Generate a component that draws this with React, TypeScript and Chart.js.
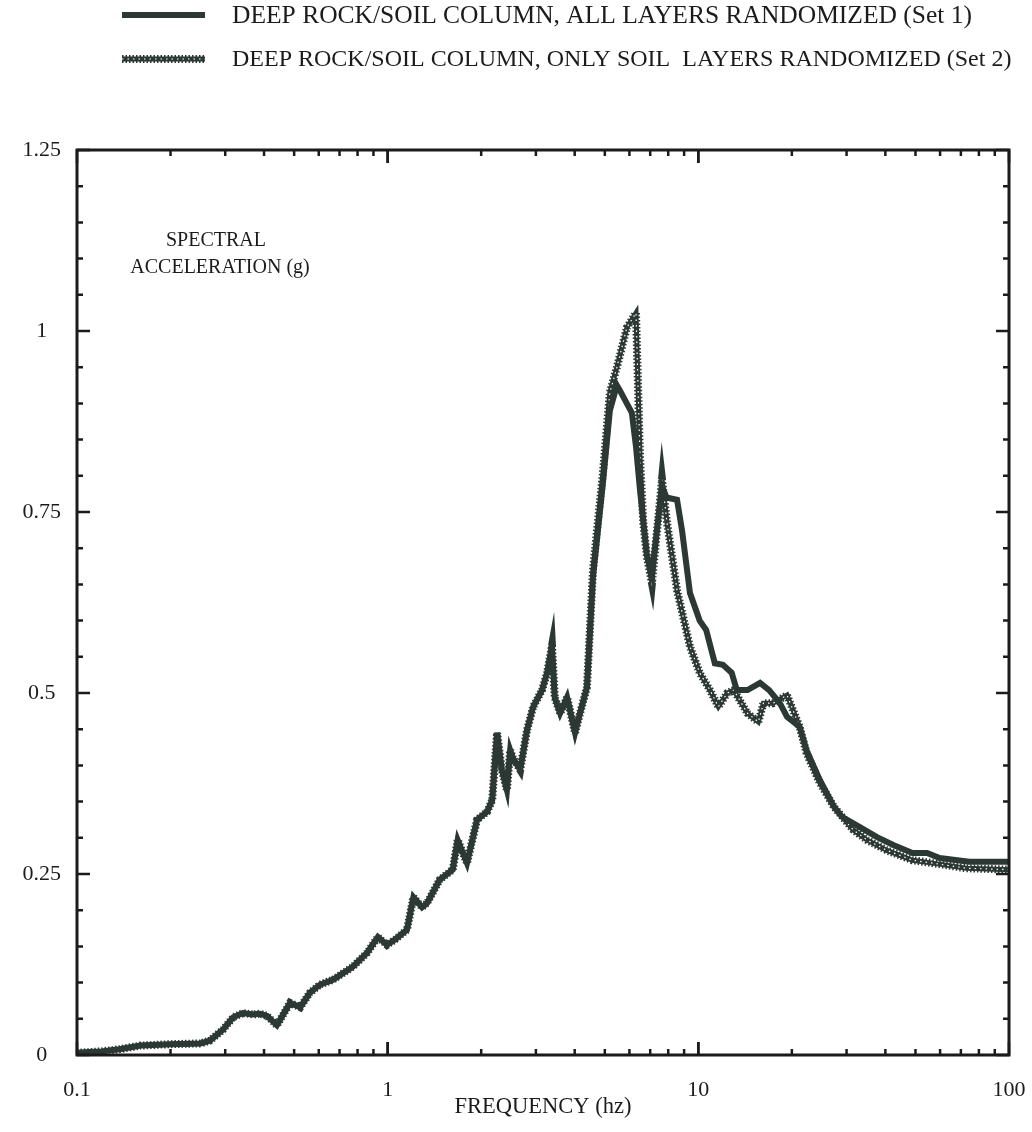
import React, { useEffect, useRef } from "react";
import Chart from "chart.js/auto";

const LEGEND_LABELS = [
  "DEEP ROCK/SOIL COLUMN, ALL LAYERS RANDOMIZED (Set 1)",
  "DEEP ROCK/SOIL COLUMN, ONLY SOIL  LAYERS RANDOMIZED (Set 2)",
];
const Y_TITLE_LINES = ["SPECTRAL", "ACCELERATION (g)"];
const X_TITLE = "FREQUENCY (hz)";

const X_TICKS = [0.1, 1, 10, 100];
const X_TICK_LABELS = ["0.1", "1", "10", "100"];
const Y_TICKS = [0, 0.25, 0.5, 0.75, 1, 1.25];
const Y_TICK_LABELS = ["0", "0.25", "0.5", "0.75", "1", "1.25"];

// common part of both curves (frequency in Hz, spectral acceleration in g)
const SHARED_FREQ = [
  0.1, 0.11, 0.12, 0.137, 0.16, 0.2, 0.25, 0.268, 0.295, 0.318, 0.342, 0.368,
  0.388, 0.409, 0.44, 0.485, 0.523, 0.562, 0.605, 0.667, 0.718, 0.773, 0.858,
  0.93, 0.995, 1.06, 1.154, 1.21, 1.29, 1.34, 1.47, 1.62, 1.68, 1.8, 1.94, 2.09,
  2.17, 2.25, 2.33, 2.42, 2.48, 2.53, 2.67, 2.81, 2.94, 3.14, 3.26, 3.38, 3.45,
  3.59, 3.78, 3.86, 4.01, 4.16, 4.38,
];
const SHARED_SA = [
  0.003, 0.004, 0.005, 0.008, 0.013, 0.015, 0.016, 0.02, 0.035, 0.052, 0.058,
  0.056, 0.057, 0.054, 0.041, 0.072, 0.066, 0.086, 0.097, 0.104, 0.113, 0.122,
  0.141, 0.163, 0.152, 0.16, 0.173, 0.218, 0.204, 0.21, 0.242, 0.256, 0.297,
  0.265, 0.325, 0.336, 0.352, 0.445, 0.394, 0.366, 0.421, 0.41, 0.394, 0.449,
  0.481, 0.504, 0.528, 0.565, 0.494, 0.472, 0.494, 0.477, 0.445, 0.472, 0.508,
];

// Set 1 (solid) above 4.4 Hz
const SET1_FREQ = [
  4.58, 4.93, 5.19, 5.47, 5.59, 6.11, 6.3, 6.49, 6.83, 7.09, 7.64, 7.9, 8.54,
  8.86, 9.4, 10.1, 10.6, 11.3, 12.0, 12.8, 13.3, 14.4, 15.8, 16.9, 18.3, 19.3,
  21.2, 22.3, 24.6, 27.3, 29.0, 33.0, 37.6, 42.4, 48.9, 54.5, 59.8, 74.5, 100,
];
const SET1_SA = [
  0.66, 0.79, 0.89, 0.925, 0.918, 0.887, 0.84, 0.78, 0.69, 0.665, 0.785, 0.77,
  0.767, 0.725, 0.638, 0.6, 0.587, 0.541, 0.539, 0.528, 0.504, 0.504, 0.514,
  0.504, 0.486, 0.467, 0.453, 0.421, 0.38, 0.343, 0.329, 0.315, 0.301, 0.29,
  0.279, 0.279, 0.272, 0.267, 0.267,
];

// Set 2 (dotted) above 4.4 Hz
const SET2_FREQ = [
  4.58, 4.93, 5.19, 5.47, 5.89, 6.3, 6.49, 6.65, 6.83, 7.09, 7.64, 7.93, 8.54,
  8.73, 9.4, 10.1, 10.9, 11.6, 12.4, 13.0, 14.4, 15.6, 16.2, 17.4, 19.3, 21.2,
  22.3, 24.6, 27.3, 31.5, 34.9, 40.3, 48.9, 56.7, 72.9, 100,
];
const SET2_SA = [
  0.67, 0.804, 0.915, 0.95, 1.005, 1.025, 0.826, 0.735, 0.688, 0.652, 0.795,
  0.735, 0.642, 0.624, 0.564, 0.528, 0.504, 0.481, 0.5, 0.504, 0.472, 0.46,
  0.486, 0.486, 0.497, 0.453, 0.417, 0.376, 0.343, 0.311, 0.297, 0.283, 0.269,
  0.265, 0.258, 0.256,
];

const LINE_COLOR = "#2c3833";
const INK = "#1b1b1b";
const SERIF = "'Liberation Serif', 'DejaVu Serif', serif";

const toPoints = (f: number[], v: number[]) => f.map((x, i) => ({ x, y: v[i] }));

const drawDottedSample = (ctx: CanvasRenderingContext2D, x0: number, x1: number, y: number) => {
  ctx.strokeStyle = LINE_COLOR;
  ctx.lineWidth = 5;
  ctx.setLineDash([]);
  ctx.beginPath();
  ctx.moveTo(x0, y);
  ctx.lineTo(x1, y);
  ctx.stroke();
  ctx.lineWidth = 8;
  ctx.setLineDash([1.5, 2]);
  ctx.beginPath();
  ctx.moveTo(x0, y);
  ctx.lineTo(x1, y);
  ctx.stroke();
  ctx.strokeStyle = "#ffffff";
  ctx.lineWidth = 1.2;
  ctx.setLineDash([1.5, 4]);
  ctx.beginPath();
  ctx.moveTo(x0, y);
  ctx.lineTo(x1, y);
  ctx.stroke();
  ctx.setLineDash([]);
};

const framePlugin = {
  id: "frame",
  afterDraw(chart: any) {
    const { ctx, chartArea: a, scales } = chart;
    const xs = scales.x;
    const ys = scales.y;
    ctx.save();
    ctx.strokeStyle = INK;
    ctx.lineWidth = 3;
    ctx.strokeRect(a.left, a.top, a.right - a.left, a.bottom - a.top);
    ctx.lineWidth = 2.5;
    const major = 13;
    const minor = 6;
    for (let d = 0.1; d < 100; d *= 10) {
      for (let k = 1; k <= 10; k++) {
        const v = d * k;
        if (v > 100.0001) continue;
        const px = xs.getPixelForValue(v);
        const len = k === 1 || k === 10 ? major : minor;
        ctx.beginPath();
        ctx.moveTo(px, a.bottom);
        ctx.lineTo(px, a.bottom - len);
        ctx.moveTo(px, a.top);
        ctx.lineTo(px, a.top + len);
        ctx.stroke();
      }
    }
    for (let i = 0; i <= 25; i++) {
      const v = i * 0.05;
      const py = ys.getPixelForValue(v);
      const len = i % 5 === 0 ? major : minor;
      ctx.beginPath();
      ctx.moveTo(a.left, py);
      ctx.lineTo(a.left + len, py);
      ctx.moveTo(a.right, py);
      ctx.lineTo(a.right - len, py);
      ctx.stroke();
    }

    ctx.fillStyle = INK;
    ctx.font = `20px ${SERIF}`;
    ctx.textAlign = "center";
    ctx.textBaseline = "middle";
    ctx.fillText(Y_TITLE_LINES[0], 216, 241);
    ctx.fillText(Y_TITLE_LINES[1], 220, 268);
    ctx.font = `22.5px ${SERIF}`;
    ctx.fillText(X_TITLE, 543, 1107);

    const rows = [15, 59];
    const sizes = [25.5, 24];
    rows.forEach((y, i) => {
      if (i === 0) {
        ctx.lineWidth = 6;
        ctx.strokeStyle = LINE_COLOR;
        ctx.setLineDash([]);
        ctx.beginPath();
        ctx.moveTo(122, y);
        ctx.lineTo(205, y);
        ctx.stroke();
      } else {
        drawDottedSample(ctx, 122, 205, y);
      }
      ctx.fillStyle = INK;
      ctx.font = `${sizes[i]}px ${SERIF}`;
      ctx.textAlign = "left";
      ctx.textBaseline = "middle";
      ctx.fillText(LEGEND_LABELS[i], 232, y + 1);
    });
    ctx.restore();
  },
};

export default function App() {
  const ref = useRef<HTMLCanvasElement | null>(null);
  useEffect(() => {
    document.body.style.margin = "0";
    const canvas = ref.current!;
    const set1 = toPoints(SHARED_FREQ.concat(SET1_FREQ), SHARED_SA.concat(SET1_SA));
    const set2 = toPoints(SHARED_FREQ.concat(SET2_FREQ), SHARED_SA.concat(SET2_SA));
    const chart = new Chart(canvas, {
      type: "line",
      data: {
        datasets: [
          {
            label: LEGEND_LABELS[0],
            data: set1,
            borderColor: LINE_COLOR,
            borderWidth: 6,
            pointRadius: 0,
            tension: 0,
            borderJoinStyle: "miter",
          },
          {
            label: LEGEND_LABELS[1] + " (dots)",
            data: set2,
            borderColor: "#ffffff",
            borderWidth: 1.2,
            borderDash: [1.5, 4],
            pointRadius: 0,
            tension: 0,
          },
          {
            label: LEGEND_LABELS[1] + " (edge)",
            data: set2,
            borderColor: LINE_COLOR,
            borderWidth: 8,
            borderDash: [1.5, 2],
            pointRadius: 0,
            tension: 0,
          },
          {
            label: LEGEND_LABELS[1],
            data: set2,
            borderColor: LINE_COLOR,
            borderWidth: 5,
            pointRadius: 0,
            tension: 0,
            borderJoinStyle: "miter",
          },
        ],
      },
      options: {
        responsive: false,
        animation: false,
        events: [],
        layout: { padding: { top: 150, right: 23, left: 0, bottom: 0 } },
        plugins: { legend: { display: false }, tooltip: { enabled: false }, title: { display: false } },
        scales: {
          x: {
            type: "logarithmic",
            min: 0.1,
            max: 100,
            grid: { display: false, drawTicks: true, tickLength: 22 },
            border: { display: false },
            afterBuildTicks: (s: any) => {
              s.ticks = X_TICKS.map((value) => ({ value }));
            },
            afterFit: (s: any) => {
              s.height = 77;
            },
            ticks: {
              autoSkip: false,
              maxRotation: 0,
              padding: 0,
              color: INK,
              font: { family: SERIF, size: 22 },
              callback: (v: any) => X_TICK_LABELS[X_TICKS.indexOf(Number(v))] ?? "",
            },
          },
          y: {
            type: "linear",
            min: 0,
            max: 1.25,
            grid: { display: false, drawTicks: false },
            border: { display: false },
            afterBuildTicks: (s: any) => {
              s.ticks = Y_TICKS.map((value) => ({ value }));
            },
            afterFit: (s: any) => {
              s.width = 77;
            },
            ticks: {
              crossAlign: "center",
              padding: 16,
              color: INK,
              font: { family: SERIF, size: 22 },
              callback: (v: any) => Y_TICK_LABELS[Y_TICKS.indexOf(Number(v))] ?? "",
            },
          },
        },
      },
      plugins: [framePlugin],
    });
    return () => chart.destroy();
  }, []);
  return (
    <div style={{ position: "absolute", left: 0, top: 0, width: 1032, height: 1132, background: "#fff" }}>
      <canvas ref={ref} width={1032} height={1132} style={{ display: "block" }} />
    </div>
  );
}
